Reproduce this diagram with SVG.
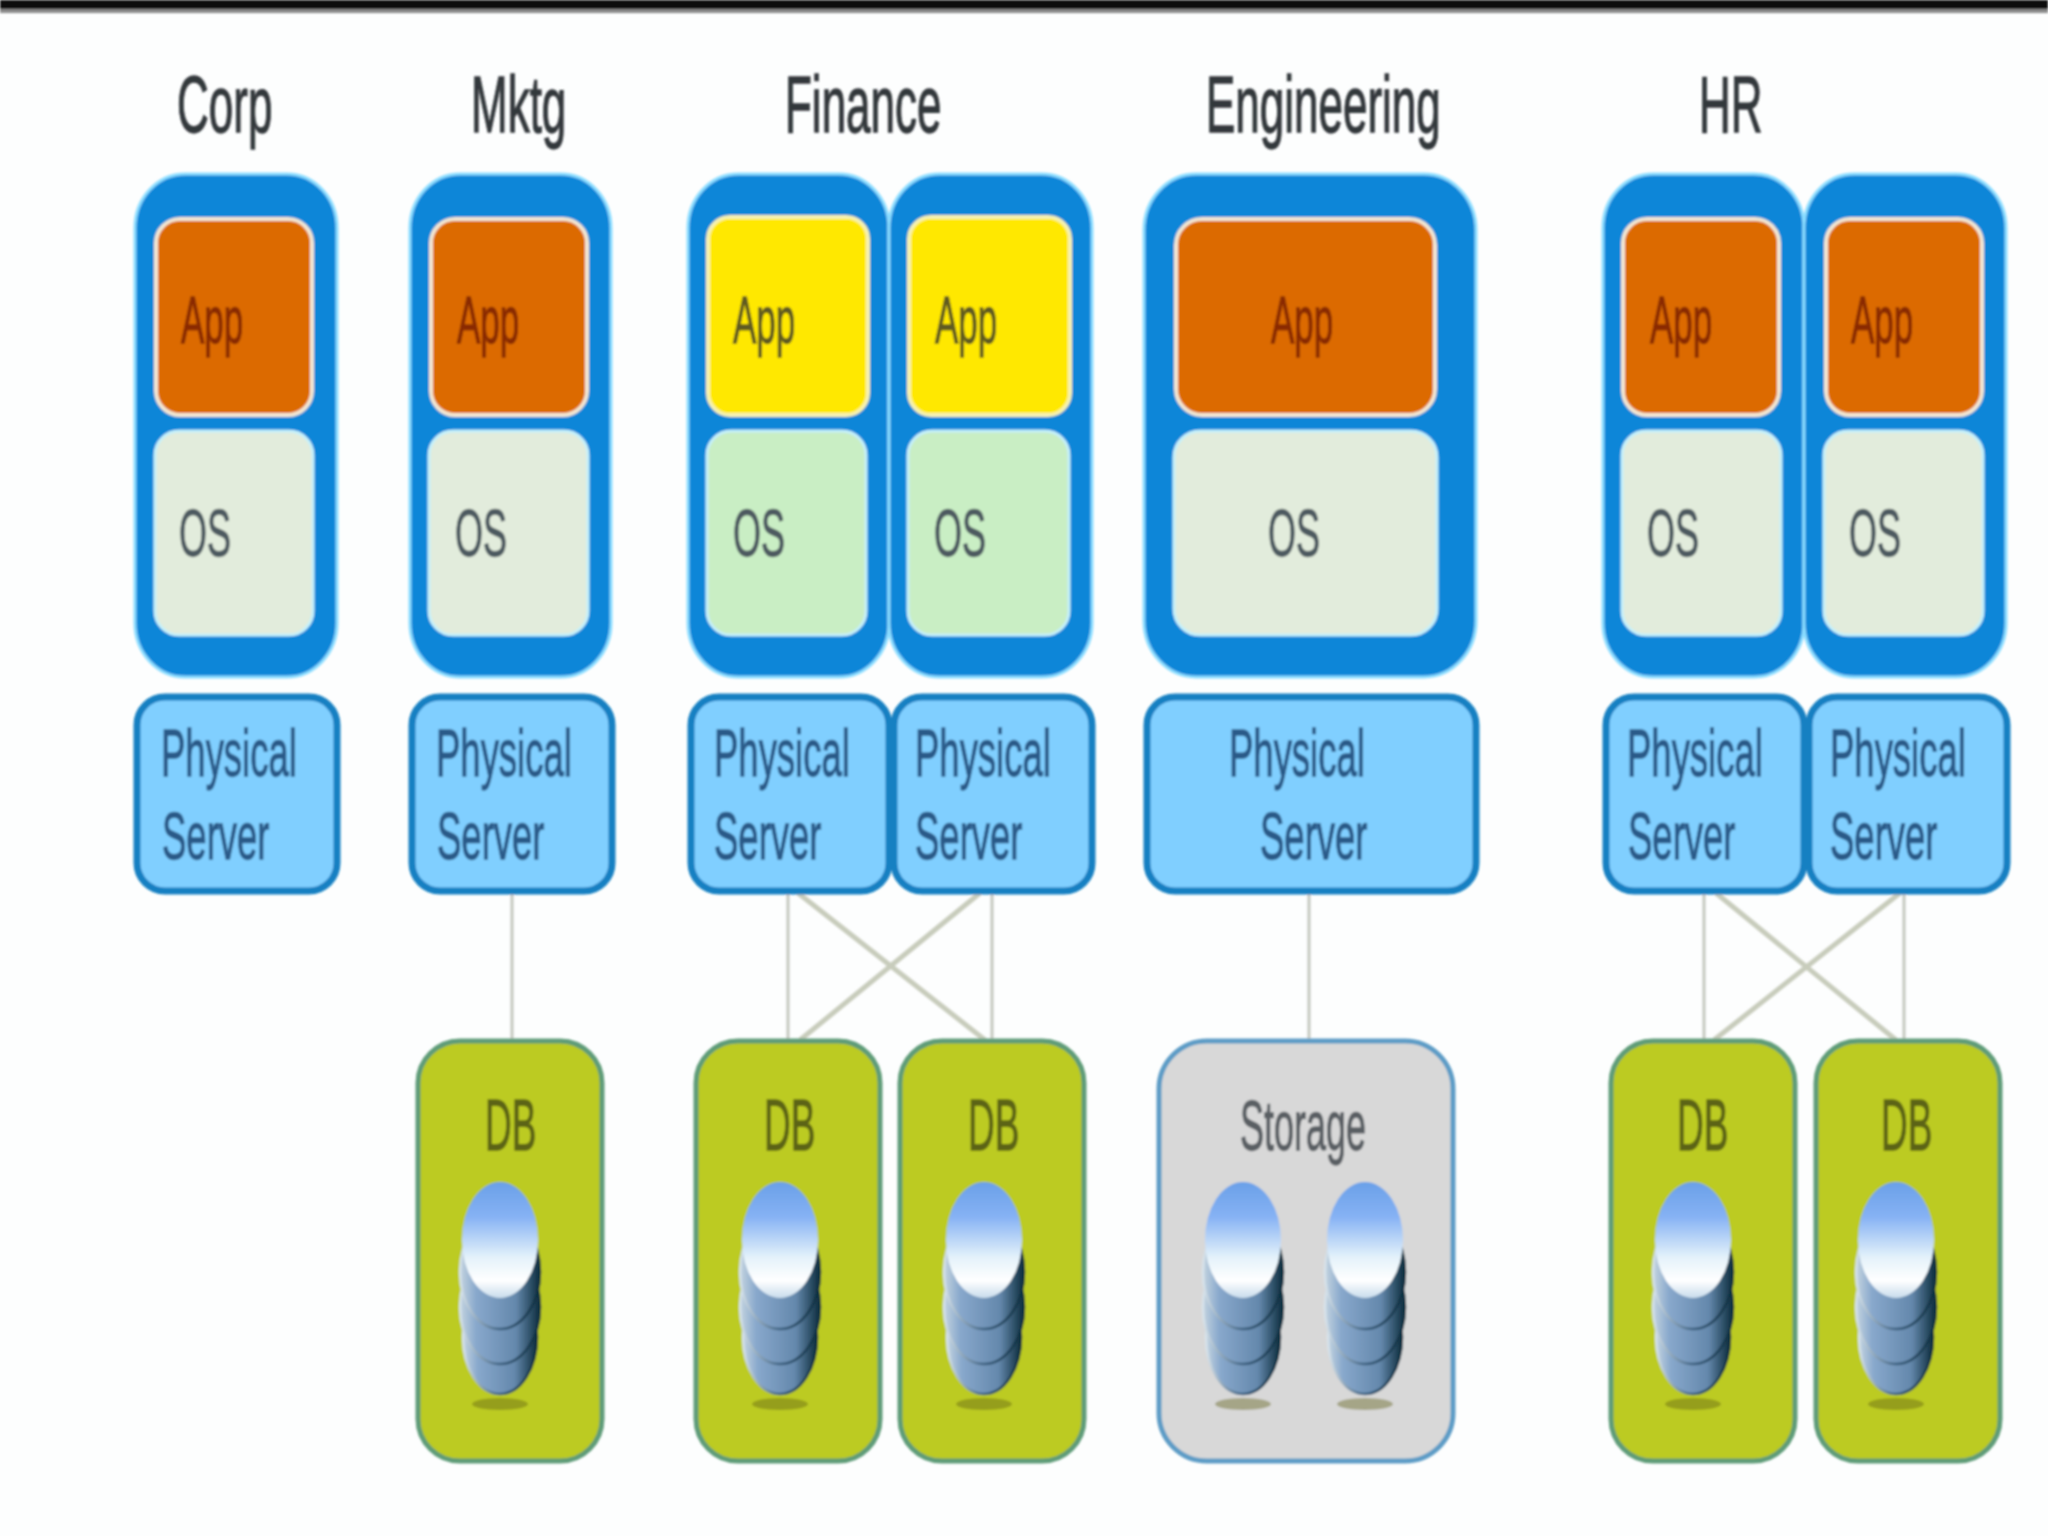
<svg xmlns="http://www.w3.org/2000/svg" xmlns:xlink="http://www.w3.org/1999/xlink" width="2048" height="1536" viewBox="0 0 2048 1536">
<style>
text{font-family:"Liberation Sans",Arial,sans-serif;stroke-width:.7px}
.title{font-size:44px;fill:#33373b;stroke:#33373b}
.app{font-size:35px;fill:#8a2c06;stroke:#8a2c06}
.appY{font-size:35px;fill:#5f5a20;stroke:#5f5a20}
.os{font-size:36px;fill:#4d5a60;stroke:#4d5a60}
.ph{font-size:36.5px;fill:#2a5a88;stroke:#2a5a88}
.db{font-size:37px;fill:#5c6414;stroke:#5c6414}
.st{font-size:36px;fill:#5a5f64;stroke:#5a5f64}
.outer{fill:#0a86d8;stroke:#8adcff;stroke-width:3}
.a{fill:#dc6a00;stroke:#f3e6d2;stroke-width:4}
.y{fill:#ffe800;stroke:#f6f2b0;stroke-width:4}
.o{fill:#e2ecdc;stroke:#c4f0fb;stroke-width:3}
.og{fill:#c9eec4;stroke:#c4f0fb;stroke-width:3}
.p{fill:#80cfff;stroke:#1480c2;stroke-width:7}
.d{fill:#bccb22;stroke:#5f9c78;stroke-width:5}
.s{fill:#d8d8d8;stroke:#5d9cc6;stroke-width:5}
.c{stroke:#c4c8c0;stroke-width:3;fill:none}
.x{stroke:#c8ccbc;stroke-width:5;fill:none}
</style>
<defs>
<filter id="b" filterUnits="userSpaceOnUse" x="0" y="0" width="2048" height="1536"><feGaussianBlur stdDeviation="1.1"/></filter>
<linearGradient id="topD" x1="0" y1="0" x2="0" y2="1"><stop offset="0" stop-color="#6aa0e8"/><stop offset=".3" stop-color="#86b2f4"/><stop offset=".65" stop-color="#e4f2fa"/><stop offset=".85" stop-color="#ffffff"/><stop offset="1" stop-color="#c8dcec"/></linearGradient>
<linearGradient id="body" x1="0" y1="0" x2="1" y2="0"><stop offset="0" stop-color="#c4d4e0"/><stop offset=".2" stop-color="#88a8cc"/><stop offset=".7" stop-color="#6488ac"/><stop offset="1" stop-color="#0c2c3c"/></linearGradient>
<linearGradient id="edge" x1="0" y1="0" x2="1" y2="0"><stop offset="0" stop-color="#d8e4ec"/><stop offset=".5" stop-color="#3c6080"/><stop offset="1" stop-color="#0c2c3c"/></linearGradient>
<g id="cyl">
<ellipse cx="0" cy="222" rx="28" ry="6" fill="#5a5a10" fill-opacity=".4"/>
<ellipse cx="0" cy="155" rx="37" ry="57" fill="url(#body)" stroke="url(#edge)" stroke-width="2.5"/>
<ellipse cx="0" cy="125" rx="40" ry="57" fill="url(#body)" stroke="url(#edge)" stroke-width="2.5"/>
<ellipse cx="0" cy="90" rx="40" ry="57" fill="url(#body)" stroke="url(#edge)" stroke-width="2.5"/>
<ellipse cx="0" cy="58" rx="38" ry="58" fill="url(#topD)"/>
</g>
</defs>
<rect width="2048" height="1536" fill="#fdfefe"/>
<g filter="url(#b)">
<g id="top-bar"><rect x="0" y="0" width="2048" height="9" fill="#0a0a0a"/><rect x="0" y="9" width="2048" height="4" fill="#8a8a8a"/></g>
<g id="connectors">
<path class="c" d="M512 893V1040M788 893V1040M992 893V1040M1309 893V1040M1704 893V1040M1904 893V1040"/>
<path class="x" d="M798 893L985 1040M980 893L800 1040M1716 893L1896 1040M1900 893L1714 1040"/>
</g>
<g id="corp">
<text class="title" transform="translate(177 132) scale(1 1.8)">Corp</text>
<rect class="outer" x="135" y="174" width="202" height="503" rx="50" ry="54"/>
<rect class="a" x="156" y="219" width="156" height="196" rx="24"/>
<rect class="o" x="155" y="431" width="158" height="204" rx="24"/>
<text class="app" transform="translate(181 343) scale(1 1.9)">App</text>
<text class="os" transform="translate(179 556) scale(1 1.85)">OS</text>
<rect class="p" x="137" y="697" width="200" height="194" rx="28"/>
<text class="ph" transform="translate(161 776) scale(1 1.84)">Physical</text>
<text class="ph" transform="translate(162 859) scale(1 1.84)">Server</text>
</g>
<g id="mktg">
<text class="title" transform="translate(471 132) scale(1 1.8)">Mktg</text>
<rect class="outer" x="410" y="174" width="201" height="503" rx="50" ry="54"/>
<rect class="a" x="431" y="219" width="156" height="196" rx="24"/>
<rect class="o" x="429" y="431" width="159" height="204" rx="24"/>
<text class="app" transform="translate(457 343) scale(1 1.9)">App</text>
<text class="os" transform="translate(455 556) scale(1 1.85)">OS</text>
<rect class="p" x="412" y="697" width="200" height="194" rx="28"/>
<text class="ph" transform="translate(436 776) scale(1 1.84)">Physical</text>
<text class="ph" transform="translate(437 859) scale(1 1.84)">Server</text>
<rect class="d" x="418" y="1041" width="184" height="420" rx="42"/>
<text class="db" transform="translate(485 1150) scale(1 1.95)">DB</text>
<use xlink:href="#cyl" href="#cyl" x="500" y="1182"/>
</g>
<g id="finance">
<text class="title" transform="translate(785 132) scale(1 1.8)">Finance</text>
<rect class="outer" x="688" y="174" width="201" height="503" rx="50" ry="54"/>
<rect class="outer" x="889" y="174" width="203" height="503" rx="50" ry="54"/>
<rect class="y" x="708" y="217" width="160" height="198" rx="22"/>
<rect class="y" x="909" y="217" width="161" height="198" rx="22"/>
<rect class="og" x="707" y="431" width="159" height="204" rx="24"/>
<rect class="og" x="908" y="431" width="161" height="204" rx="24"/>
<text class="appY" transform="translate(733 343) scale(1 1.9)">App</text>
<text class="appY" transform="translate(935 343) scale(1 1.9)">App</text>
<text class="os" transform="translate(733 556) scale(1 1.85)">OS</text>
<text class="os" transform="translate(934 556) scale(1 1.85)">OS</text>
<rect class="p" x="691" y="697" width="198" height="194" rx="28"/>
<rect class="p" x="894" y="697" width="198" height="194" rx="28"/>
<text class="ph" transform="translate(714 776) scale(1 1.84)">Physical</text>
<text class="ph" transform="translate(714 859) scale(1 1.84)">Server</text>
<text class="ph" transform="translate(915 776) scale(1 1.84)">Physical</text>
<text class="ph" transform="translate(915 859) scale(1 1.84)">Server</text>
<rect class="d" x="696" y="1041" width="184" height="420" rx="42"/>
<rect class="d" x="900" y="1041" width="184" height="420" rx="42"/>
<text class="db" transform="translate(764 1150) scale(1 1.95)">DB</text>
<text class="db" transform="translate(968 1150) scale(1 1.95)">DB</text>
<use xlink:href="#cyl" href="#cyl" x="780" y="1182"/>
<use xlink:href="#cyl" href="#cyl" x="984" y="1182"/>
</g>
<g id="engineering">
<text class="title" transform="translate(1206 132) scale(1 1.8)">Engineering</text>
<rect class="outer" x="1144" y="174" width="332" height="503" rx="52" ry="56"/>
<rect class="a" x="1176" y="219" width="259" height="196" rx="26"/>
<rect class="o" x="1174" y="431" width="263" height="204" rx="26"/>
<text class="app" transform="translate(1271 343) scale(1 1.9)">App</text>
<text class="os" transform="translate(1268 556) scale(1 1.85)">OS</text>
<rect class="p" x="1147" y="697" width="329" height="194" rx="28"/>
<text class="ph" transform="translate(1229 776) scale(1 1.84)">Physical</text>
<text class="ph" transform="translate(1260 859) scale(1 1.84)">Server</text>
<rect class="s" x="1159" y="1041" width="294" height="420" rx="48"/>
<text class="st" transform="translate(1240 1150) scale(1 1.95)">Storage</text>
<use xlink:href="#cyl" href="#cyl" x="1243" y="1182"/>
<use xlink:href="#cyl" href="#cyl" x="1365" y="1182"/>
</g>
<g id="hr">
<text class="title" transform="translate(1699 132) scale(1 1.8)">HR</text>
<rect class="outer" x="1603" y="174" width="201" height="503" rx="50" ry="54"/>
<rect class="outer" x="1804" y="174" width="202" height="503" rx="50" ry="54"/>
<rect class="a" x="1623" y="219" width="156" height="196" rx="24"/>
<rect class="a" x="1826" y="219" width="156" height="196" rx="24"/>
<rect class="o" x="1622" y="431" width="159" height="204" rx="24"/>
<rect class="o" x="1824" y="431" width="159" height="204" rx="24"/>
<text class="app" transform="translate(1650 343) scale(1 1.9)">App</text>
<text class="app" transform="translate(1851 343) scale(1 1.9)">App</text>
<text class="os" transform="translate(1647 556) scale(1 1.85)">OS</text>
<text class="os" transform="translate(1849 556) scale(1 1.85)">OS</text>
<rect class="p" x="1606" y="697" width="198" height="194" rx="28"/>
<rect class="p" x="1809" y="697" width="198" height="194" rx="28"/>
<text class="ph" transform="translate(1627 776) scale(1 1.84)">Physical</text>
<text class="ph" transform="translate(1628 859) scale(1 1.84)">Server</text>
<text class="ph" transform="translate(1830 776) scale(1 1.84)">Physical</text>
<text class="ph" transform="translate(1830 859) scale(1 1.84)">Server</text>
<rect class="d" x="1611" y="1041" width="184" height="420" rx="42"/>
<rect class="d" x="1816" y="1041" width="184" height="420" rx="42"/>
<text class="db" transform="translate(1677 1150) scale(1 1.95)">DB</text>
<text class="db" transform="translate(1881 1150) scale(1 1.95)">DB</text>
<use xlink:href="#cyl" href="#cyl" x="1693" y="1182"/>
<use xlink:href="#cyl" href="#cyl" x="1896" y="1182"/>
</g>
</g>
</svg>
